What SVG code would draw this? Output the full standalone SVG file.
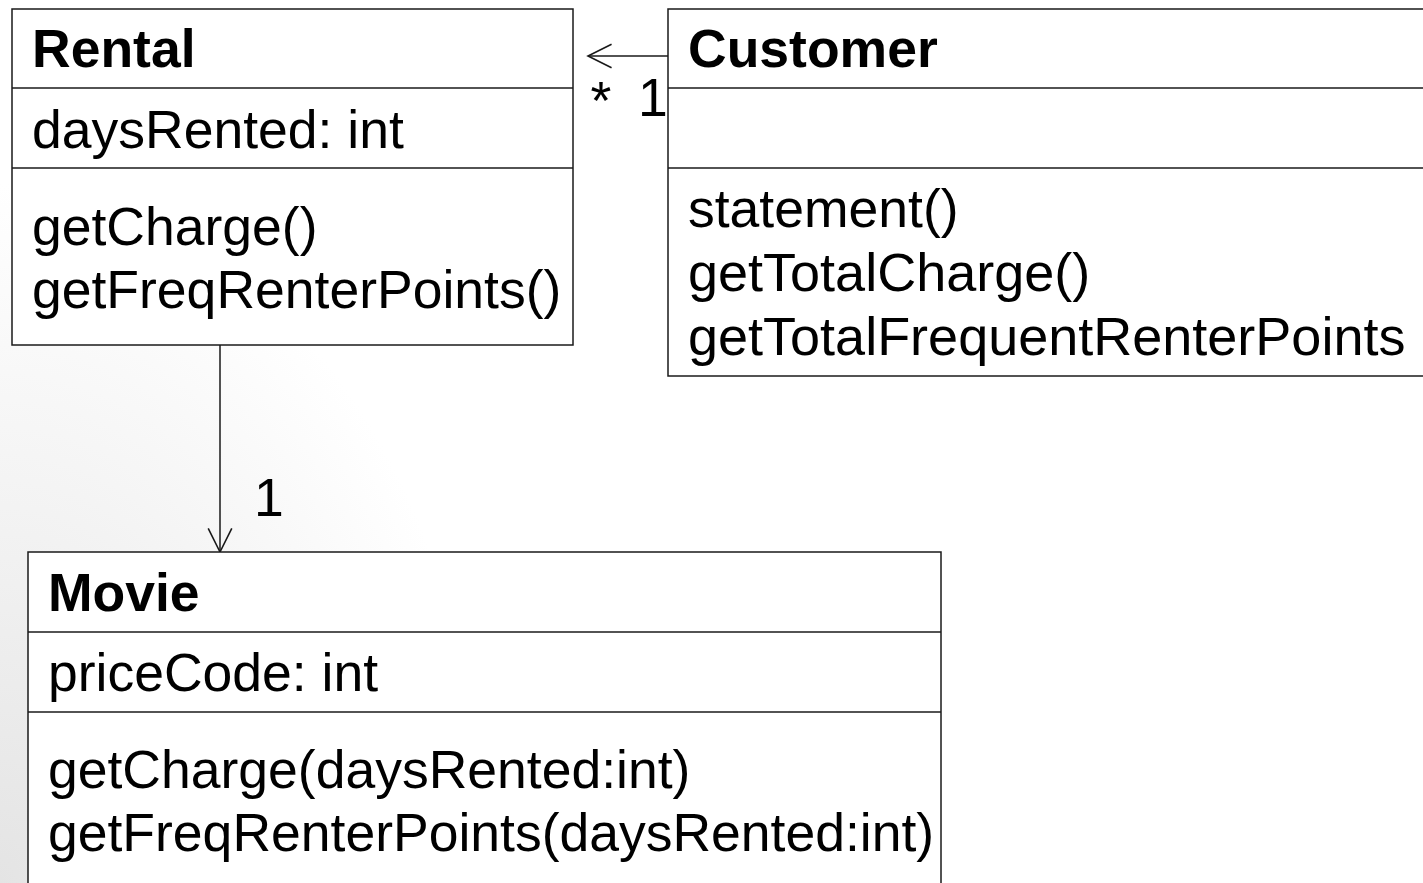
<svg xmlns="http://www.w3.org/2000/svg" width="1423" height="883" viewBox="0 0 1423 883">
  <defs>
    <!-- soft grey shading in the lower-left corner of the page -->
    <radialGradient id="bgShade" gradientUnits="userSpaceOnUse" cx="0" cy="883" r="700" gradientTransform="translate(0 883) scale(0.7 1.0) translate(0 -883)">
      <stop offset="0" stop-color="#e4e4e4"/>
      <stop offset="0.5" stop-color="#f2f2f2"/>
      <stop offset="1" stop-color="#ffffff"/>
    </radialGradient>
    <marker id="openArrow" markerUnits="userSpaceOnUse" markerWidth="30" markerHeight="30" viewBox="-24 -13 28 26" refX="0" refY="0" orient="auto">
      <path d="M -22 -11 L 0 0 L -22 11" fill="none" stroke="#1a1a1a" stroke-width="1.5"/>
    </marker>
    <style>
      .box { fill: #ffffff; stroke: #1a1a1a; stroke-width: 1.5; }
      .sep { stroke: #1a1a1a; stroke-width: 1.5; }
      .title { font-family: "Liberation Sans", Arial, sans-serif; font-size: 53.5px; font-weight: bold; fill: #000; }
      .member { font-family: "Liberation Sans", Arial, sans-serif; font-size: 53.5px; fill: #000; }
      .edge { fill: none; stroke: #1a1a1a; stroke-width: 1.5; marker-end: url(#openArrow); }
      .mult { font-family: "Liberation Sans", Arial, sans-serif; font-size: 53.5px; fill: #000; }
    </style>
  </defs>

  <rect x="0" y="0" width="1423" height="883" fill="#ffffff"/>
  <rect x="0" y="0" width="1423" height="883" fill="url(#bgShade)"/>

  <!-- associations -->
  <g id="connectors">
    <path class="edge" d="M 668 56 L 588 56"/>
    <text class="mult" x="601" y="119" text-anchor="middle">*</text>
    <text class="mult" x="638" y="116">1</text>

    <path class="edge" d="M 220 345 L 220 552"/>
    <text class="mult" x="254" y="516">1</text>
  </g>

  <!-- class Rental -->
  <g id="rental">
    <rect class="box" x="12" y="9" width="561" height="336"/>
    <line class="sep" x1="12" y1="88" x2="573" y2="88"/>
    <line class="sep" x1="12" y1="168" x2="573" y2="168"/>
    <text class="title" x="32" y="67">Rental</text>
    <text class="member" x="32" y="148">daysRented: int</text>
    <text class="member" x="32" y="245">getCharge()</text>
    <text class="member" x="32" y="308">getFreqRenterPoints()</text>
  </g>

  <!-- class Customer -->
  <g id="customer">
    <rect class="box" x="668" y="9" width="770" height="367"/>
    <line class="sep" x1="668" y1="88" x2="1438" y2="88"/>
    <line class="sep" x1="668" y1="168" x2="1438" y2="168"/>
    <text class="title" x="688" y="67">Customer</text>
    <text class="member" x="688" y="227">statement()</text>
    <text class="member" x="688" y="291" style="font-size:54px">getTotalCharge()</text>
    <text class="member" x="688" y="355" style="font-size:54px">getTotalFrequentRenterPoints</text>
  </g>

  <!-- class Movie -->
  <g id="movie">
    <rect class="box" x="28" y="552" width="913" height="360"/>
    <line class="sep" x1="28" y1="632" x2="941" y2="632"/>
    <line class="sep" x1="28" y1="712" x2="941" y2="712"/>
    <text class="title" x="48" y="611">Movie</text>
    <text class="member" x="48" y="691">priceCode: int</text>
    <text class="member" x="48" y="788">getCharge(daysRented:int)</text>
    <text class="member" x="48" y="851">getFreqRenterPoints(daysRented:int)</text>
  </g>
</svg>
